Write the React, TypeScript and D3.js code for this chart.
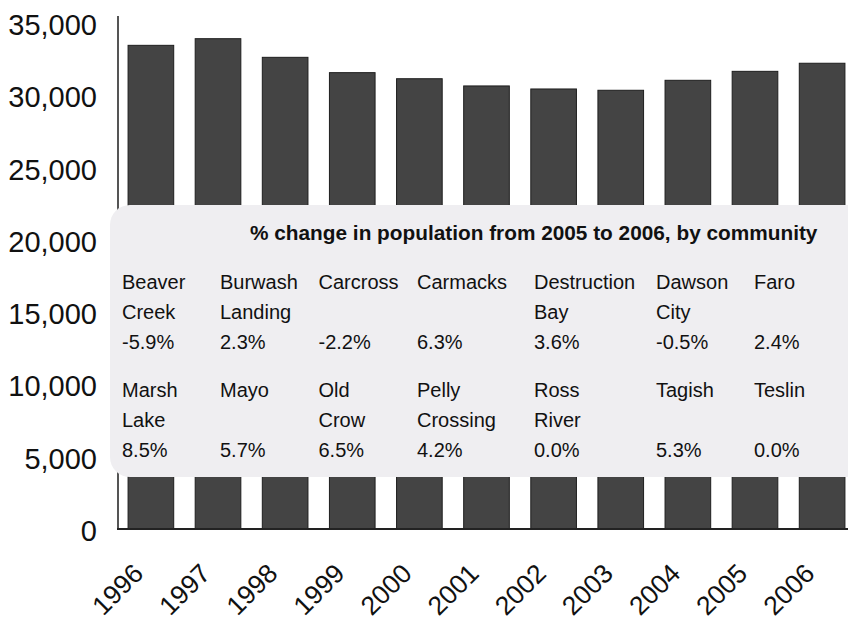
import * as d3 from "d3";
import { ReactElement } from "react";

// population by year
const years = ["1996", "1997", "1998", "1999", "2000", "2001", "2002", "2003", "2004", "2005", "2006"];
const population = [33470, 33930, 32640, 31580, 31160, 30660, 30450, 30360, 31050, 31670, 32230];
const yTicks = [0, 5000, 10000, 15000, 20000, 25000, 30000, 35000];

// % change table
const tableTitle = "% change in population from 2005 to 2006, by community";
const row1Names = [["Beaver", "Creek"], ["Burwash", "Landing"], ["Carcross"], ["Carmacks"], ["Destruction", "Bay"], ["Dawson", "City"], ["Faro"]];
const row1Changes = ["-5.9%", "2.3%", "-2.2%", "6.3%", "3.6%", "-0.5%", "2.4%"];
const row2Names = [["Marsh", "Lake"], ["Mayo"], ["Old", "Crow"], ["Pelly", "Crossing"], ["Ross", "River"], ["Tagish"], ["Teslin"]];
const row2Changes = ["8.5%", "5.7%", "6.5%", "4.2%", "0.0%", "5.3%", "0.0%"];

const W = 848;
const H = 621;
const FONT = "'Liberation Sans', Arial, Helvetica, sans-serif";

// column offsets of the table
const colX = [122, 220, 318.5, 417, 534, 656, 754];
const lineGap = 29.5;

const App = (): ReactElement => {
    const x = d3.scaleBand()
        .domain(years)
        .range([118, 855])
        .paddingInner(0.32)
        .paddingOuter(0.15);

    const y = d3.scaleLinear()
        .domain([0, 35500])
        .range([529, 16]);

    const fmt = d3.format(",");

    const renderRow = (names: string[][], changes: string[], top: number) => (
        names.map((lines, i) => (
            <g key={i}>
                {lines.map((l, j) => (
                    <text key={j} x={colX[i]} y={top + j * lineGap}>{l}</text>
                ))}
                <text x={colX[i]} y={top + 2 * lineGap + 1}>{changes[i]}</text>
            </g>
        ))
    );

    return (
        <svg width={W} height={H} style={{ position: "absolute", left: 0, top: 0, display: "block" }}
            fontFamily={FONT}>
            <rect x={0} y={0} width={W} height={H} fill="#ffffff" />

            {/* bars */}
            {years.map((yr, i) => (
                <rect key={yr}
                    x={x(yr)!}
                    y={y(population[i])}
                    width={x.bandwidth()}
                    height={y(0) - y(population[i])}
                    fill="#444444"
                    stroke="#1e1e1e"
                    strokeWidth={1} />
            ))}

            {/* y axis */}
            <line x1={118} x2={118} y1={y(0)} y2={y(35500)} stroke="#555555" strokeWidth={2} />
            {yTicks.map(t => (
                <text key={t} x={97} y={y(t) + 2} textAnchor="end" dominantBaseline="central"
                    fontSize={29} fill="#111111">{fmt(t)}</text>
            ))}

            {/* x axis */}
            <line x1={117} x2={W} y1={y(0)} y2={y(0)} stroke="#222222" strokeWidth={2} />
            {years.map(yr => (
                <text key={yr} textAnchor="end" fontSize={26.5} fill="#111111"
                    transform={`translate(${x(yr)! + x.bandwidth() / 2 - 6},${575}) rotate(-45)`}>{yr}</text>
            ))}

            {/* table overlay */}
            <rect x={110} y={205} width={780} height={272} rx={20} fill="#efeef1" />
            <text x={250} y={240} fontSize={20.8} fontWeight="bold" fill="#111111">{tableTitle}</text>
            <g fontSize={20} fill="#111111">
                {renderRow(row1Names, row1Changes, 289)}
                {renderRow(row2Names, row2Changes, 397)}
            </g>
        </svg>
    );
};

export default App;
